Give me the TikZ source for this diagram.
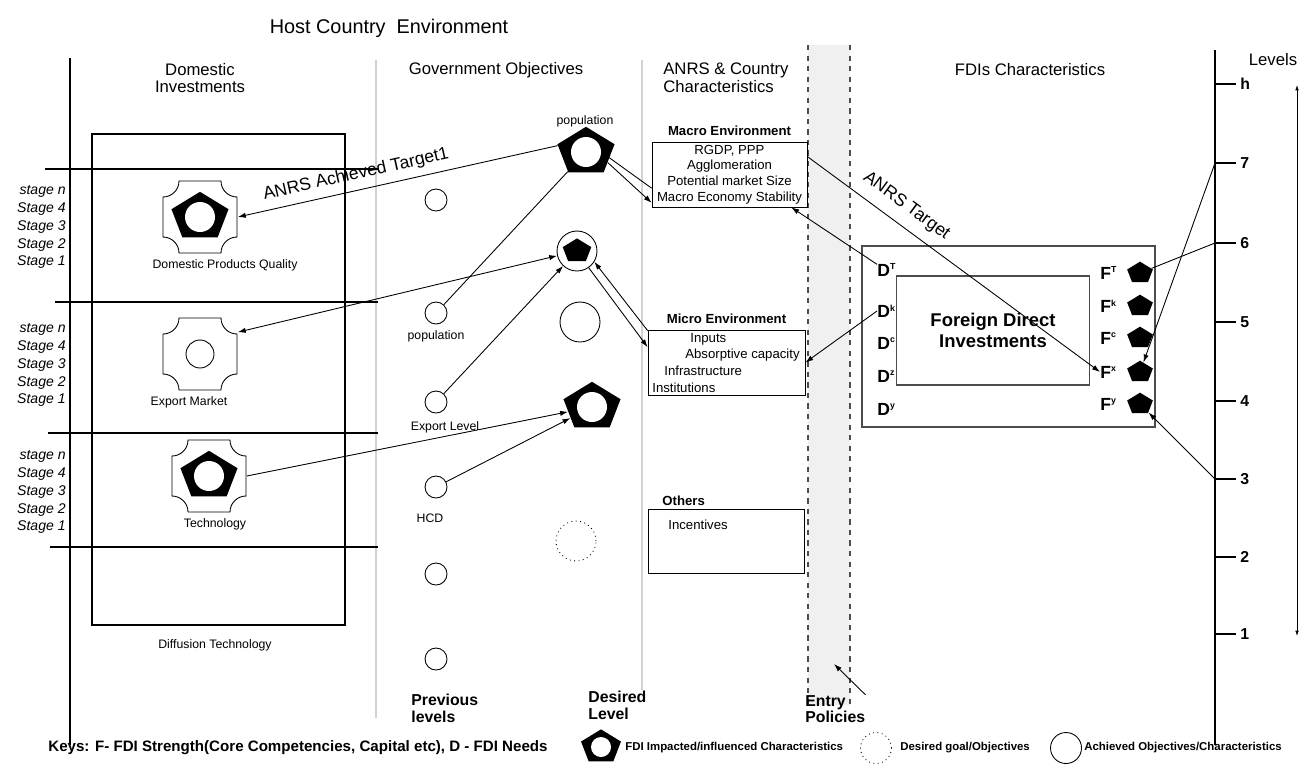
\documentclass[tikz,border=0pt]{standalone}
\usepackage{fontspec}
\setmainfont{Liberation Sans}
\usetikzlibrary{arrows.meta,shapes.geometric,positioning}

\newcommand\fdisup[1]{\textsuperscript{\fontsize{5}{5}\selectfont #1}}
% outline of a square with hollowed corners, round a named node
\newcommand\crossicon[1]{%
  \draw[line width=0.5pt, shift={(#1.center)}, yscale=-1] (-21,36) -- (21,36)
    arc[start angle=180, end angle=270, radius=16] -- (37,-20)
    arc[start angle=90, end angle=180, radius=16] -- (-21,-36)
    arc[start angle=0, end angle=90, radius=16] -- (-37,20)
    arc[start angle=-90, end angle=0, radius=16] -- cycle;}

\tikzset{
  lbl/.style={font=\fontsize{7}{8}\selectfont, inner sep=0pt},
  head/.style={font=\fontsize{9.5}{10}\selectfont, inner sep=0pt},
  stagetxt/.style={font=\fontsize{8}{10.2}\selectfont\itshape, align=right, anchor=east, inner sep=0pt},
  boxtxt/.style={font=\fontsize{7.5}{8.9}\selectfont, inner sep=0pt},
  boxhead/.style={font=\fontsize{7.5}{9}\selectfont\bfseries, inner sep=0pt},
  bighead/.style={font=\fontsize{9}{9.5}\selectfont\bfseries, align=left, anchor=west, inner sep=0pt},
  envbox/.style={draw, minimum width=#1, minimum height=1.3cm, inner sep=0pt, align=center, font=\fontsize{7.5}{8.9}\selectfont},
  pent/.style={regular polygon, regular polygon sides=5, fill=black, inner sep=0pt, minimum size=#1, yscale=0.84},
  ring/.style={circle, fill=white, inner sep=0pt, minimum size=#1},
  goal/.style={circle, draw, line width=0.5pt, inner sep=0pt, minimum size=#1},
  iconbox/.style={rectangle, inner sep=0pt, minimum width=1.5cm, minimum height=1.44cm},
  fdilbl/.style={font=\fontsize{10}{12}\selectfont\bfseries, inner sep=0pt, anchor=west},
  lvlbl/.style={font=\fontsize{9}{10}\selectfont\bfseries, inner sep=0pt, anchor=west},
  keytxt/.style={font=\fontsize{#1}{8}\selectfont\bfseries, inner sep=0pt, anchor=west},
  arrlbl/.style={font=\fontsize{10}{11}\selectfont, inner sep=1pt},
  conn/.style={-{Latex[length=4.5pt,width=3pt]}, line width=0.5pt},
  conn2/.style={{Latex[length=4.5pt,width=3pt]}-{Latex[length=4.5pt,width=3pt]}, line width=0.5pt}
}

\begin{document}
\begin{tikzpicture}[x=0.02cm, y=-0.02cm]
\useasboundingbox (0,0) rectangle (1300,765);

% entry policies band
\fill[gray!12] (808,45) rectangle (850,705);
\draw[dashed, line width=0.9pt, gray!60!black] (808,45) -- (808,705);
\draw[dashed, line width=0.9pt, gray!60!black] (850,45) -- (850,705);

% column lines
\draw[line width=1.2pt] (70,58) -- (70,745);
\draw[line width=1.2pt] (1215,50) -- (1215,745);
\draw[gray!35, line width=1pt] (376,60) -- (376,718);
\draw[gray!35, line width=1pt] (642,60) -- (642,690);

% headings
\node[font=\fontsize{11.3}{13}\selectfont, inner sep=0pt] (host) at (389,28) {Host Country\ \ Environment};
\node[head, align=center] (hdom) at (200,78) {Domestic\\Investments};
\node[head] (hgov) at (496,70) {Government Objectives};
\node[head, align=left, anchor=west] (hanrs) at (663,78) {ANRS \& Country\\Characteristics};
\node[head] (hfdi) at (1030,70) {FDIs Characteristics};
\node[head] (hlev) at (1273,60) {Levels};

% domestic investments
\draw[line width=0.6pt] (92,134) rectangle (345,625);
\foreach \yy/\xa in {169/45,302/55,433/48,547/50}
  \draw[line width=0.7pt] (\xa,\yy) -- (378,\yy);
\foreach \yy [count=\i] in {227,365,492}
  \node[stagetxt] (stage\i) at (66,\yy) {stage n\\Stage 4\\Stage 3\\Stage 2\\Stage 1};

\node[iconbox] (dpq) at (200,217) {};
\crossicon{dpq}
\node[pent=1.2cm] (dpqP) at (dpq) {};
\node[ring=0.6cm] (dpqR) at (dpq) {};
\node[lbl] (dpqL) at (225,265) {Domestic Products Quality};

\node[iconbox] (exm) at (200,354) {};
\crossicon{exm}
\node[goal=0.56cm] (exmC) at (exm) {};
\node[lbl] (exmL) at (189,402) {Export Market};

\node[iconbox] (tech) at (209,476) {};
\crossicon{tech}
\node[pent=1.2cm] (techP) at (tech) {};
\node[ring=0.6cm] (techR) at (tech) {};
\node[lbl] (techL) at (215,524) {Technology};

\node[lbl] (diff) at (215,645) {Diffusion Technology};

% government objectives
\foreach \nm/\yy in {g1/200,popc/313,explc/402,hcd/487,g5/574,g6/659}
  \node[goal=0.44cm] (\nm) at (436,\yy) {};
\node[lbl] (popcL) at (436,336) {population};
\node[lbl] (explcL) at (445,427) {Export Level};
\node[lbl] (hcdL) at (430,518) {HCD};
\node[bighead] (prev) at (411,708) {Previous\\levels};
\node[bighead] (desired) at (588,705) {Desired\\Level};

\node[pent=1.2cm] (popT) at (586,152) {};
\node[ring=0.6cm] (popTr) at (popT) {};
\node[lbl] (popTL) at (585,121) {population};
\node[goal=0.8cm] (expC) at (577,251) {};
\node[pent=0.6cm] (expCp) at (expC) {};
\node[goal=0.8cm] (achC) at (580,322) {};
\node[pent=1.2cm] (expP) at (592,407) {};
\node[ring=0.6cm] (expPr) at (expP) {};
\node[goal=0.8cm, dotted] (desC) at (576,541) {};

% ANRS and country characteristics
\node[envbox=3.1cm] (macro) at (729.5,174.5) {RGDP, PPP\\Agglomeration\\Potential market Size\\Macro Economy Stability};
\node[boxhead, above=3pt of macro] (macroH) {Macro Environment};
\node[envbox=3.14cm] (micro) at (726.5,362.5) {};
\node[boxhead, above=3pt of micro] (microH) {Micro Environment};
\foreach \tx/\xx/\yy [count=\i] in {Inputs/690/339,Absorptive capacity/685/355,Infrastructure/664/371,Institutions/652/388}
  \node[boxtxt, anchor=west] (mic\i) at (\xx,\yy) {\tx};
\node[envbox=3.12cm, minimum height=1.28cm] (others) at (726,541) {};
\node[boxhead, anchor=west] (othersH) at (662,501) {Others};
\node[boxtxt, anchor=west] (incent) at (668,525) {Incentives};

\node[bighead] (entry) at (805,709) {Entry\\Policies};
\coordinate (entryTip) at (834,664);
\draw[conn] (entry.north east) -- (entryTip);

% FDI characteristics
\draw[gray!60!black, line width=0.6pt] (862,246) rectangle (1155,427);
\node[draw=gray!60!black, line width=0.6pt, minimum width=3.86cm, minimum height=2.18cm, font=\fontsize{10.5}{12}\selectfont\bfseries, align=center] (fdi) at (993,330.5) {Foreign Direct\\Investments};
\foreach \ds/\fs/\yd/\yf in {T/T/270/273,k/k/311/306,c/c/343/338,z/x/376/372,y/y/409/404}{
  \node[fdilbl] (D\ds) at (877,\yd) {D\fdisup{\ds}};
  \node[fdilbl] (F\fs) at (1100,\yf) {F\fdisup{\fs}};
  \node[pent=0.54cm] (p\fs) at (1140,\yf) {};
}

% levels
\foreach \lv/\yy in {h/84,7/163,6/243,5/322,4/401,3/479,2/557,1/634}{
  \coordinate (t\lv) at (1215,\yy);
  \draw[line width=0.7pt] (t\lv) -- (1236,\yy);
  \node[lvlbl] (lv\lv) at (1240,\yy) {\lv};
}
\coordinate (rngTop) at (1297,85);
\coordinate (rngBot) at (1297,636);
\draw[{Latex[length=3pt,width=2pt]}-{Latex[length=3pt,width=2pt]}, line width=0.4pt] (rngTop) -- (rngBot);

% connectors
\draw[conn] (popT.165) -- (dpq.east) node[pos=0.62, above=3pt, sloped, arrlbl] (achLbl) {ANRS Achieved Target1};
\draw[conn2] (expC) -- (exm.30);
\draw[conn] (tech.east) -- (expP);
\draw[conn] (hcd) -- (expP);
\draw[line width=0.5pt] (popc) -- (popT);
\draw[conn] (explc) -- (expC);
\draw[conn] (popT.-30) -- (macro.200);
\draw[conn] (macro.190) -- (popTr.east);
\draw[conn] (expC.-55) -- (micro.169);
\draw[conn] (micro.158) -- (expC.-32);
\draw[conn] (macro.13) -- (Fx.west) node[pos=0.3, above=5pt, sloped, arrlbl] (tgtLbl) {ANRS Target};
\draw[conn] (DT.150) -- (macro.-28);
\draw[conn] (Dk.west) -- (micro.east);
\draw[line width=0.5pt] (t6) -- (pT);
\draw[conn] (t7) -- (px);
\draw[conn] (t3) -- (py);

% keys
\node[keytxt=8.6] (keys) at (48,748) {Keys: F- FDI Strength(Core Competencies, Capital etc), D - FDI Needs};
\node[pent=0.84cm] (keyP) at (601,747) {};
\node[ring=0.4cm] (keyR) at (keyP) {};
\node[keytxt=6.5] (keyPL) at (625,748) {FDI Impacted/influenced Characteristics};
\node[goal=0.62cm, dotted] (keyD) at (876,748) {};
\node[keytxt=6.5] (keyDL) at (900,748) {Desired goal/Objectives};
\node[goal=0.62cm] (keyA) at (1066,748) {};
\node[keytxt=6.5] (keyAL) at (1084,748) {Achieved Objectives/Characteristics};
\end{tikzpicture}
\end{document}
